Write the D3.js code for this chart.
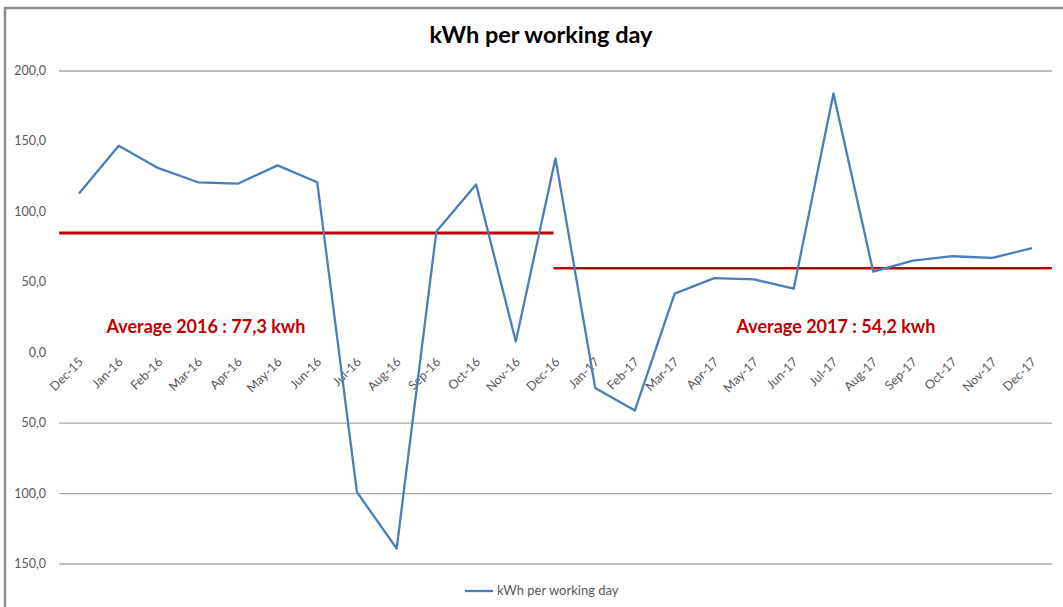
<!DOCTYPE html>
<html>
<head>
<meta charset="utf-8">
<script src="https://cdn.jsdelivr.net/npm/d3@7"></script>
<style>
  body { margin: 0; background: #fff; }
  text { font-family: Lato, "Open Sans", sans-serif; }
</style>
</head>
<body>
<div id="chart"></div>
<script>
// categories (months) and values
const months = ["Dec-15","Jan-16","Feb-16","Mar-16","Apr-16","May-16","Jun-16","Jul-16","Aug-16","Sep-16","Oct-16","Nov-16","Dec-16",
                "Jan-17","Feb-17","Mar-17","Apr-17","May-17","Jun-17","Jul-17","Aug-17","Sep-17","Oct-17","Nov-17","Dec-17"];
const kwh = [113, 147, 131, 121, 120, 133, 121, -99, -139, 86, 119.5, 8, 138,
             -25, -41, 42, 53, 52, 45.5, 184, 57.6, 65.4, 68.5, 67.3, 74.2];
const yTicks = [200, 150, 100, 50, 0, -50, -100, -150];
const gridTicks = [200, -50, -100, -150];
// average lines: [label, drawn value, first month, last month]
const averages = [
  {label: "Average 2016 : 77,3 kwh", value: 85, from: "Dec-15", to: "Dec-16"},
  {label: "Average 2017 : 54,2 kwh", value: 60, from: "Dec-16", to: "Dec-17"}
];

const W = 1063, H = 607;
const svg = d3.select("#chart").append("svg").attr("width", W).attr("height", H);

// chart frame
svg.append("path")
  .attr("d", "M5," + H + "V8H" + W)
  .attr("fill", "none").attr("stroke", "#8c8c8c").attr("stroke-width", 2.5);

// scales
const x = d3.scalePoint().domain(months).range([79, 1032]);
const step = x.step();
const y = d3.scaleLinear().domain([-150, 200]).range([564, 71]);

// title
svg.append("text").attr("x", 541).attr("y", 43)
  .attr("text-anchor", "middle").attr("font-size", 23.5).attr("font-weight", "bold")
  .attr("fill", "#000").text("kWh per working day");

// gridlines
svg.append("g").selectAll("line").data(gridTicks).join("line")
  .attr("x1", x(months[0]) - step / 2).attr("x2", x(months[months.length - 1]) + step / 2)
  .attr("y1", d => y(d)).attr("y2", d => y(d))
  .attr("stroke", "#a6a6a6").attr("stroke-width", 1.3);

// y axis labels (no minus sign, comma decimals)
svg.append("g").selectAll("text").data(yTicks).join("text")
  .attr("x", 46).attr("y", d => y(d) + 4)
  .attr("text-anchor", "end").attr("font-size", 12.5).attr("fill", "#595959")
  .text(d => d3.format(".1f")(Math.abs(d)).replace(".", ","));

// x axis labels, rotated
svg.append("g").selectAll("text").data(months).join("text")
  .attr("transform", d => "translate(" + (x(d) + 5) + "," + (y(0) + 10) + ") rotate(-45)")
  .attr("text-anchor", "end").attr("font-size", 12.5).attr("fill", "#595959")
  .text(d => d);

// average lines
svg.append("g").selectAll("line").data(averages).join("line")
  .attr("x1", (d, i) => i === 0 ? x(d.from) - step / 2 : x(d.from) - 2)
  .attr("x2", (d, i) => i === 0 ? x(d.to) - 2 : x(d.to) + step / 2)
  .attr("y1", d => y(d.value)).attr("y2", d => y(d.value))
  .attr("stroke", "#c00000").attr("stroke-width", d => d === averages[0] ? 3 : 2.5);

svg.append("g").selectAll("text").data(averages).join("text")
  .attr("x", (d, i) => i === 0 ? 206 : 836).attr("y", 333)
  .attr("text-anchor", "middle").attr("font-size", 18).attr("font-weight", "bold")
  .attr("fill", "#c00000").text(d => d.label);

// data line
const line = d3.line().x((d, i) => x(months[i])).y(d => y(d));
svg.append("path").datum(kwh)
  .attr("d", line).attr("fill", "none")
  .attr("stroke", "#4a7ebb").attr("stroke-width", 2.3).attr("stroke-linejoin", "round");

// legend
const lg = svg.append("g");
lg.append("line").attr("x1", 465).attr("x2", 493).attr("y1", 591).attr("y2", 591)
  .attr("stroke", "#4a7ebb").attr("stroke-width", 2.3);
lg.append("text").attr("x", 497).attr("y", 595).attr("font-size", 13).attr("fill", "#595959")
  .text("kWh per working day");
</script>
</body>
</html>
